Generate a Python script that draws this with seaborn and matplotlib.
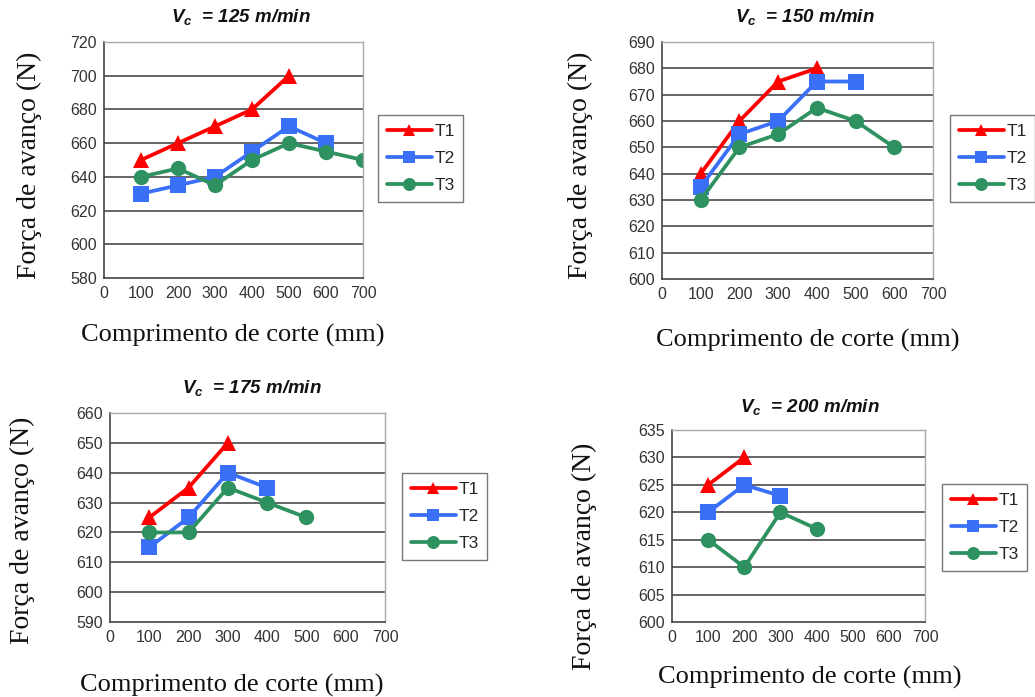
import matplotlib
matplotlib.use("Agg")
import matplotlib.pyplot as plt
import numpy as np
import pandas as pd
import seaborn as sns

# values (x = cutting length in mm, y = feed force in N)
speeds = ["125", "150", "175", "200"]

x_125_t1 = [100, 200, 300, 400, 500]
y_125_t1 = [650, 660, 670, 680, 700]
x_125_t2 = [100, 200, 300, 400, 500, 600]
y_125_t2 = [630, 635, 640, 655, 670, 660]
x_125_t3 = [100, 200, 300, 400, 500, 600, 700]
y_125_t3 = [640, 645, 635, 650, 660, 655, 650]

x_150_t1 = [100, 200, 300, 400]
y_150_t1 = [640, 660, 675, 680]
x_150_t2 = [100, 200, 300, 400, 500]
y_150_t2 = [635, 655, 660, 675, 675]
x_150_t3 = [100, 200, 300, 400, 500, 600]
y_150_t3 = [630, 650, 655, 665, 660, 650]

x_175_t1 = [100, 200, 300]
y_175_t1 = [625, 635, 650]
x_175_t2 = [100, 200, 300, 400]
y_175_t2 = [615, 625, 640, 635]
x_175_t3 = [100, 200, 300, 400, 500]
y_175_t3 = [620, 620, 635, 630, 625]

x_200_t1 = [100, 200]
y_200_t1 = [625, 630]
x_200_t2 = [100, 200, 300]
y_200_t2 = [620, 625, 623]
x_200_t3 = [100, 200, 300, 400]
y_200_t3 = [615, 610, 620, 617]

y_ranges = {
    "125": (580, 720, 20),
    "150": (600, 690, 10),
    "175": (590, 660, 10),
    "200": (600, 635, 5),
}

series_data = {
    "125": [(x_125_t1, y_125_t1), (x_125_t2, y_125_t2), (x_125_t3, y_125_t3)],
    "150": [(x_150_t1, y_150_t1), (x_150_t2, y_150_t2), (x_150_t3, y_150_t3)],
    "175": [(x_175_t1, y_175_t1), (x_175_t2, y_175_t2), (x_175_t3, y_175_t3)],
    "200": [(x_200_t1, y_200_t1), (x_200_t2, y_200_t2), (x_200_t3, y_200_t3)],
}
series_names = ["T1", "T2", "T3"]
palette = {"T1": "#ff0000", "T2": "#3a6ff7", "T3": "#2e9160"}
markers = {"T1": "^", "T2": "s", "T3": "o"}

W, H = 1035, 697

# pixel layout: axes box (left, right, top, bottom), title, legend box, labels
layout = {
    "125": dict(ax=(104, 363, 42, 278), title=(241, 17), leg=(378, 115),
                xlab=(233, 335), ylab=(29, 165)),
    "150": dict(ax=(662, 933, 42, 279), title=(805, 17), leg=(950, 115),
                xlab=(808, 340), ylab=(580, 165)),
    "175": dict(ax=(110, 385, 413, 622), title=(252, 388), leg=(402, 473),
                xlab=(232, 685), ylab=(22, 530)),
    "200": dict(ax=(672, 925, 430, 622), title=(810, 407), leg=(942, 484),
                xlab=(810, 677), ylab=(584, 556)),
}

sns.set_theme(style="white")
plt.rcParams["font.family"] = ["Liberation Sans", "DejaVu Sans"]
plt.rcParams["mathtext.fontset"] = "custom"
plt.rcParams["mathtext.it"] = "Liberation Sans:italic:bold"

fig = plt.figure(figsize=(W / 100, H / 100), dpi=100)

for speed in speeds:
    lay = layout[speed]
    left, right, top, bottom = lay["ax"]
    ax = fig.add_axes([left / W, 1 - bottom / H, (right - left) / W, (bottom - top) / H])

    frames = []
    for name, (xs, ys) in zip(series_names, series_data[speed]):
        frames.append(pd.DataFrame({"comprimento": xs, "forca": ys, "serie": name}))
    df = pd.concat(frames, ignore_index=True)

    sns.lineplot(
        data=df, x="comprimento", y="forca", hue="serie", style="serie",
        palette=palette, markers=markers, dashes=False, markersize=11,
        linewidth=2.7, markeredgewidth=0, ax=ax, sort=False,
    )

    ymin, ymax, ystep = y_ranges[speed]
    ax.set_xlim(0, 700)
    ax.set_ylim(ymin, ymax)
    ax.set_xticks(np.arange(0, 701, 100))
    ax.set_yticks(np.arange(ymin, ymax + 1, ystep))
    for yv in np.arange(ymin + ystep, ymax + 1, ystep):
        ax.axhline(yv, color="#3a3a3a", linewidth=1.1, zorder=0)
    ax.tick_params(axis="both", labelsize=11.5, labelcolor="#333333", color="#444444",
                   direction="inout", length=6, width=1, pad=2)
    ax.tick_params(axis="x", direction="out", length=4)
    for side in ["left", "bottom"]:
        ax.spines[side].set_color("#444444")
        ax.spines[side].set_linewidth(1.2)
    for side in ["top", "right"]:
        ax.spines[side].set_color("#a8a8a8")
        ax.spines[side].set_linewidth(1.0)
    ax.set_xlabel("")
    ax.set_ylabel("")

    handles, labels = ax.get_legend_handles_labels()
    ax.get_legend().remove()
    lx, ly = lay["leg"]
    leg = ax.legend(
        handles, labels, loc="upper left", bbox_to_anchor=(lx / W, 1 - ly / H),
        bbox_transform=fig.transFigure, frameon=True, fancybox=False,
        fontsize=12.5, handlelength=2.6, handletextpad=0.15, labelspacing=0.7,
        borderpad=0.5, borderaxespad=0, markerscale=0.85,
    )
    leg.get_frame().set_edgecolor("#555555")
    leg.get_frame().set_linewidth(1.0)

    tx, ty = lay["title"]
    fig.text(tx / W, 1 - ty / H, r"$V_c$  = " + speed + " m/min", ha="center", va="center",
             fontsize=13.5, fontweight="bold", fontstyle="italic", color="#111111")
    xx, xy = lay["xlab"]
    fig.text(xx / W, 1 - xy / H, "Comprimento de corte (mm)", ha="center", va="center",
             fontsize=19, family="Liberation Serif", color="#111111")
    yx, yy = lay["ylab"]
    fig.text(yx / W, 1 - yy / H, "Força de avanço (N)", ha="center", va="center",
             rotation=90, fontsize=20, family="Liberation Serif", color="#111111")

fig.savefig("out.png", dpi=100)
